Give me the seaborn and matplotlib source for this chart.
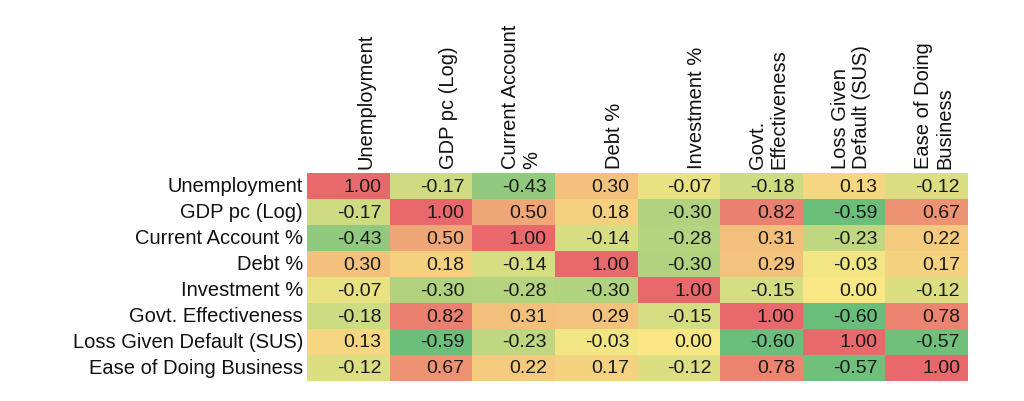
import numpy as np
import pandas as pd
import seaborn as sns
import matplotlib
matplotlib.use("Agg")
import matplotlib.pyplot as plt
from matplotlib.colors import LinearSegmentedColormap, TwoSlopeNorm

row_labels = ["Unemployment", "GDP pc (Log)", "Current Account %", "Debt %",
              "Investment %", "Govt. Effectiveness", "Loss Given Default (SUS)",
              "Ease of Doing Business"]
col_labels = ["Unemployment", "GDP pc (Log)", "Current Account\n%", "Debt %",
              "Investment %", "Govt.\nEffectiveness", "Loss Given\nDefault (SUS)",
              "Ease of Doing\nBusiness"]

r_unemp = [1.00, -0.17, -0.43, 0.30, -0.07, -0.18, 0.13, -0.12]
r_gdp = [-0.17, 1.00, 0.50, 0.18, -0.30, 0.82, -0.59, 0.67]
r_ca = [-0.43, 0.50, 1.00, -0.14, -0.28, 0.31, -0.23, 0.22]
r_debt = [0.30, 0.18, -0.14, 1.00, -0.30, 0.29, -0.03, 0.17]
r_inv = [-0.07, -0.30, -0.28, -0.30, 1.00, -0.15, 0.00, -0.12]
r_govt = [-0.18, 0.82, 0.31, 0.29, -0.15, 1.00, -0.60, 0.78]
r_lgd = [0.13, -0.59, -0.23, -0.03, 0.00, -0.60, 1.00, -0.57]
r_ease = [-0.12, 0.67, 0.22, 0.17, -0.12, 0.78, -0.57, 1.00]

data = pd.DataFrame([r_unemp, r_gdp, r_ca, r_debt, r_inv, r_govt, r_lgd, r_ease],
                    index=row_labels, columns=col_labels)

sns.set_style("white")
plt.rcParams['font.family'] = ['Liberation Sans', 'DejaVu Sans']

cmap = LinearSegmentedColormap.from_list("gyr", ["#69BE7B", "#F8E784", "#E8686B"])
norm = TwoSlopeNorm(vmin=data.values.min(), vcenter=0.0, vmax=data.values.max())

fig = plt.figure(figsize=(10.24, 4.02), dpi=100)
ax = fig.add_axes([307/1024, 1-382/402, (968-307)/1024, (382-174)/402])

sns.heatmap(data, ax=ax, cmap=cmap, norm=norm, cbar=False, annot=True, fmt=".2f",
            annot_kws={"fontsize": 14, "color": "#1a1a1a"}, linewidths=0)

cell_w = (968-307)/8.0
for t in ax.texts:
    x, y = t.get_position()
    t.set_position((x + 0.5 - 8/cell_w, y))
    t.set_ha("right")

ax.xaxis.tick_top()
ax.set_xticks(np.arange(8) + 1 - 14/cell_w)
ax.set_xticklabels(col_labels, rotation=90, ha="right", va="bottom",
                   multialignment="left", fontsize=14.5, color="#111111",
                   linespacing=1.15)
ax.set_yticklabels(row_labels, rotation=0, fontsize=14.5, color="#111111")
ax.tick_params(axis="x", length=0, pad=3.6)
ax.tick_params(axis="y", length=0, pad=2.9)
ax.set_xlabel("")
ax.set_ylabel("")

fig.savefig("out.png", dpi=100, facecolor="white")
